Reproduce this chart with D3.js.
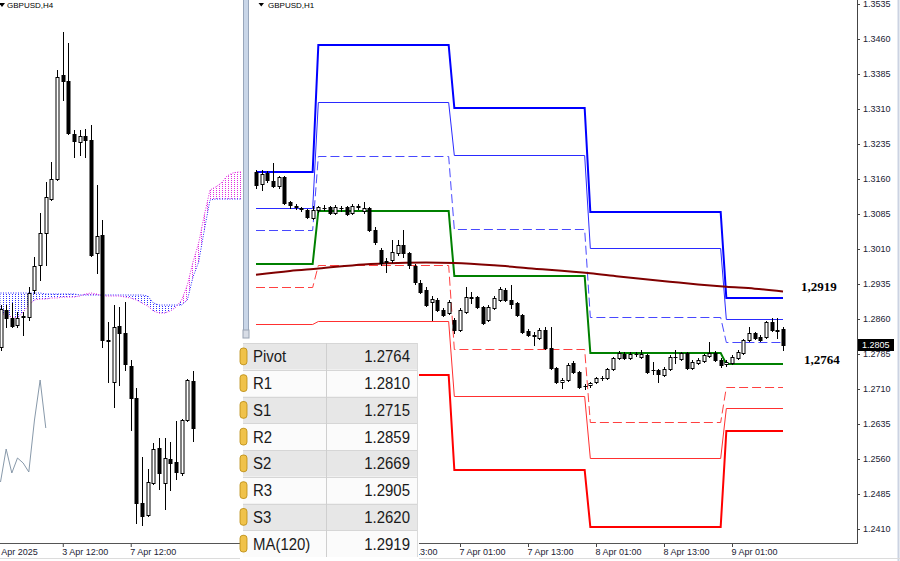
<!DOCTYPE html>
<html><head><meta charset="utf-8">
<script src="https://cdn.jsdelivr.net/npm/d3@7/dist/d3.min.js"></script>
<style>
html,body{margin:0;padding:0;background:#fff;overflow:hidden}
svg{display:block}
</style></head><body>
<svg id="chart" width="900" height="561"></svg>
<script>
// ---------------- DATA ----------------
// H1 candles (bar 0 = 3 Apr 13:00 ... bar 93 = 9 Apr 10:00)
const h1Open=[
1.3175,1.3149,1.3173,1.3156,1.3145,1.3164,1.3111,1.3102,1.3098,1.3094,
1.3076,1.3094,1.3098,1.3100,1.3087,1.3098,1.3100,1.3087,1.3102,1.3091,
1.3098,1.3051,1.3008,1.2982,1.2986,1.3001,1.3018,1.3001,1.2974,1.2937,
1.2922,1.2896,1.2901,1.2879,1.2873,1.2858,1.2836,1.2875,1.2907,1.2907,
1.2886,1.2858,1.2884,1.2901,1.2922,1.2901,1.2894,1.2869,1.2834,1.2826,
1.2819,1.2836,1.2798,1.2755,1.2725,1.2729,1.2766,1.2746,1.2716,1.2719,
1.2725,1.2734,1.2734,1.2753,1.2776,1.2785,1.2776,1.2785,1.2779,1.2783,
1.2751,1.2751,1.2740,1.2753,1.2779,1.2774,1.2787,1.2755,1.2766,1.2770,
1.2781,1.2787,1.2772,1.2764,1.2766,1.2776,1.2787,1.2815,1.2830,1.2821,
1.2821,1.2854,1.2836,1.2839];
const h1High=[
1.3179,1.3179,1.3177,1.3194,1.3166,1.3166,1.3113,1.3106,1.3100,1.3096,
1.3102,1.3102,1.3104,1.3102,1.3104,1.3102,1.3102,1.3106,1.3106,1.3111,
1.3100,1.3057,1.3012,1.2991,1.3029,1.3029,1.3051,1.3004,1.2978,1.2944,
1.2929,1.2909,1.2905,1.2884,1.2901,1.2862,1.2884,1.2929,1.2918,1.2909,
1.2888,1.2890,1.2909,1.2929,1.2926,1.2933,1.2896,1.2871,1.2839,1.2832,
1.2841,1.2843,1.2843,1.2757,1.2734,1.2766,1.2770,1.2749,1.2721,1.2725,
1.2736,1.2738,1.2755,1.2779,1.2791,1.2789,1.2789,1.2789,1.2794,1.2785,
1.2768,1.2753,1.2757,1.2783,1.2794,1.2789,1.2789,1.2772,1.2776,1.2785,
1.2811,1.2791,1.2776,1.2772,1.2783,1.2794,1.2817,1.2843,1.2832,1.2826,
1.2856,1.2862,1.2862,1.2843];
const h1Low=[
1.3141,1.3136,1.3154,1.3143,1.3141,1.3106,1.3098,1.3096,1.3091,1.3076,
1.3074,1.3089,1.3094,1.3085,1.3085,1.3091,1.3083,1.3085,1.3096,1.3087,
1.3049,1.3021,1.2976,1.2961,1.2982,1.2997,1.2993,1.2969,1.2935,1.2916,
1.2888,1.2858,1.2877,1.2866,1.2871,1.2830,1.2834,1.2873,1.2894,1.2884,
1.2849,1.2856,1.2881,1.2899,1.2899,1.2884,1.2866,1.2830,1.2824,1.2804,
1.2817,1.2796,1.2753,1.2723,1.2712,1.2727,1.2744,1.2712,1.2710,1.2714,
1.2723,1.2729,1.2731,1.2751,1.2774,1.2774,1.2774,1.2781,1.2776,1.2744,
1.2742,1.2725,1.2738,1.2751,1.2766,1.2772,1.2753,1.2753,1.2764,1.2768,
1.2779,1.2770,1.2757,1.2759,1.2764,1.2774,1.2785,1.2813,1.2817,1.2813,
1.2819,1.2834,1.2819,1.2794];
const h1Close=[
1.3147,1.3171,1.3158,1.3145,1.3164,1.3109,1.3104,1.3100,1.3096,1.3079,
1.3094,1.3100,1.3097,1.3087,1.3100,1.3097,1.3085,1.3102,1.3100,1.3098,
1.3051,1.3025,1.2980,1.2984,1.3004,1.3018,1.3001,1.2976,1.2939,1.2918,
1.2890,1.2903,1.2879,1.2869,1.2896,1.2836,1.2879,1.2907,1.2906,1.2886,
1.2851,1.2886,1.2905,1.2924,1.2901,1.2892,1.2869,1.2832,1.2826,1.2824,
1.2836,1.2798,1.2755,1.2725,1.2729,1.2761,1.2746,1.2714,1.2717,1.2723,
1.2734,1.2733,1.2753,1.2776,1.2787,1.2776,1.2785,1.2784,1.2785,1.2746,
1.2750,1.2742,1.2753,1.2779,1.2778,1.2787,1.2755,1.2768,1.2772,1.2783,
1.2787,1.2772,1.2761,1.2768,1.2779,1.2789,1.2815,1.2830,1.2819,1.2815,
1.2854,1.2836,1.2835,1.2805];

// Daily pivot levels, one value per day (3,4,7,8,9 Apr)
const dayStart=[0,11,35,59,83];
const dayEnd=[10,34,58,82,93];
const levelR3=[1.3175,1.3447,1.3312,1.3089,1.2905];
const levelR2=[1.3098,1.3325,1.3211,1.3012,1.2859];
const levelR1=[1.3051,1.3209,1.3053,1.2864,1.2810];
const levelP =[1.2978,1.3091,1.2952,1.2787,1.2764];
const levelS1=[1.2929,1.2976,1.2796,1.2639,1.2715];
const levelS2=[1.2849,1.2856,1.2695,1.2562,1.2669];
const levelS3=[1.2760,1.2740,1.2536,1.2414,1.2620];

// MA(120) on H1 (bar index, value)
const maIdx=[0,6,11,19,25,30,35,42,48,59,64,73,78,83,88,93];
const maVal=[1.2955,1.2963,1.2968,1.2977,1.2980,1.2981,1.2980,1.2975,1.2969,1.2958,1.2951,1.2940,1.2934,1.2929,1.2925,1.2919];

// H4 candles (left panel)
const h4Open=[
1.2892,1.2929,1.2921,1.2914,1.2922,1.2922,1.2949,1.2974,1.3006,1.3040,
1.3060,1.3164,1.3158,1.3105,1.3097,1.3103,1.3099,1.2986,1.3004,1.2899,
1.2857,1.2913,1.2906,1.2873,1.2841,1.2736,1.2724,1.2756,1.2791,1.2756,
1.2780,1.2777,1.2766,1.2819,1.2858];
const h4High=[
1.2934,1.2934,1.2936,1.2927,1.2927,1.2952,1.2982,1.3026,1.3057,1.3077,
1.3169,1.3207,1.3196,1.3109,1.3109,1.3110,1.3114,1.3054,1.3019,1.2917,
1.2934,1.2932,1.2937,1.2879,1.2851,1.2782,1.2770,1.2796,1.2801,1.2801,
1.2797,1.2818,1.2820,1.2860,1.2868];
const h4Low=[
1.2889,1.2912,1.2912,1.2912,1.2904,1.2919,1.2946,1.2959,1.2974,1.3039,
1.3059,1.3139,1.3105,1.3082,1.3084,1.3082,1.2983,1.2966,1.2892,1.2857,
1.2832,1.2854,1.2869,1.2809,1.2716,1.2714,1.2723,1.2755,1.2750,1.2730,
1.2749,1.2760,1.2764,1.2818,1.2798];
const h4Close=[
1.2930,1.2921,1.2913,1.2921,1.2923,1.2946,1.2973,1.3006,1.3042,1.3060,
1.3162,1.3158,1.3106,1.3098,1.3103,1.3099,1.2984,1.3003,1.2899,1.2898,
1.2912,1.2906,1.2875,1.2841,1.2736,1.2723,1.2757,1.2790,1.2766,1.2781,
1.2776,1.2767,1.2819,1.2859,1.2811];

// Ichimoku cloud spans on H4 (index 0..43)
const spanA=[
1.2926,1.2924,1.2922,1.2921,1.2927,1.2934,1.2939,1.2940,1.2940,1.2941,
1.2941,1.2942,1.2942,1.2942,1.2943,1.2945,1.2946,1.2945,1.2943,1.2943,
1.2943,1.2943,1.2942,1.2941,1.2939,1.2936,1.2933,1.2928,1.2926,1.2926,
1.2928,1.2932,1.2939,1.2954,1.2977,1.2996,1.3024,1.3049,1.3052,1.3056,
1.3063,1.3066,1.3067,1.3067];
const spanB=[
1.2946,1.2946,1.2946,1.2946,1.2946,1.2946,1.2946,1.2946,1.2945,1.2945,
1.2945,1.2945,1.2945,1.2945,1.2944,1.2944,1.2944,1.2944,1.2944,1.2944,
1.2944,1.2944,1.2944,1.2944,1.2944,1.2944,1.2943,1.2936,1.2934,1.2934,
1.2934,1.2934,1.2934,1.2939,1.2962,1.2977,1.3009,1.3039,1.3040,1.3040,
1.3040,1.3040,1.3040,1.3040];
const chikouShift=26;

// Axis ticks and labels
const priceTicks=[1.3535,1.3460,1.3385,1.3310,1.3235,1.3160,1.3085,1.3010,1.2935,1.2860,1.2785,1.2710,1.2635,1.2560,1.2485,1.2410];
const h1TickIdx=[24,36,48,60,72,84];
const h1TickLabels=["4 Apr 13:00","7 Apr 01:00","7 Apr 13:00","8 Apr 01:00","8 Apr 13:00","9 Apr 01:00"];
const h4TickIdx=[-1,11,23];
const h4TickLabels=["2 Apr 2025","3 Apr 12:00","7 Apr 12:00"];

// Table
const tableLabels=["Pivot","R1","S1","R2","S2","R3","S3","MA(120)"];
const tableValues=[levelP[4],levelR1[4],levelS1[4],levelR2[4],levelS2[4],levelR3[4],levelS3[4],maVal[maVal.length-1]];

// ---------------- DRAW ----------------
const FONT='"Liberation Sans",Arial,sans-serif';
const svg=d3.select('#chart');
svg.append('rect').attr('width',900).attr('height',561).attr('fill','#fff');
const defs=svg.append('defs');
defs.append('clipPath').attr('id','clipL').append('rect').attr('x',0).attr('y',0).attr('width',242).attr('height',542);
defs.append('clipPath').attr('id','clipR').append('rect').attr('x',250).attr('y',0).attr('width',607).attr('height',542);
defs.append('clipPath').attr('id','clipAx').append('rect').attr('x',419).attr('y',530).attr('width',440).attr('height',31);
const patB=defs.append('pattern').attr('id','dotB').attr('patternUnits','userSpaceOnUse').attr('width',3).attr('height',2);
patB.append('rect').attr('width',1).attr('height',1).attr('fill','#3030ff');
const patA=defs.append('pattern').attr('id','dotA').attr('patternUnits','userSpaceOnUse').attr('width',3).attr('height',2);
patA.append('rect').attr('width',1).attr('height',1).attr('fill','#e030e0');

const yR=d3.scaleLinear().domain([1.2410,1.3535]).range([529,4]);
const xR=d3.scaleLinear().domain([0,93]).range([256,783]);
const yL=d3.scaleLinear().domain([1.2714,1.3207]).range([525,32]);
const xL=d3.scaleLinear().domain([0,34]).range([0.5,193]);

function drawCandles(g,x,y,O,Hh,L,C){
  const idx=d3.range(O.length);
  const cg=g.append('g');
  cg.selectAll('line').data(idx).join('line')
    .attr('x1',i=>Math.round(x(i))+0.5).attr('x2',i=>Math.round(x(i))+0.5)
    .attr('y1',i=>Math.round(y(Hh[i]))).attr('y2',i=>Math.round(y(L[i]))+1)
    .attr('stroke','#000').attr('stroke-width',1);
  cg.selectAll('rect').data(idx).join('rect')
    .attr('x',i=>Math.round(x(i))-1)
    .attr('width',3)
    .attr('y',i=>Math.round(y(Math.max(O[i],C[i])))+0.5)
    .attr('height',i=>Math.max(0.01,Math.round(y(Math.min(O[i],C[i])))-Math.round(y(Math.max(O[i],C[i])))))
    .attr('fill',i=>C[i]<O[i]?'#000':'#fff')
    .attr('stroke','#000').attr('stroke-width',1);
}

// ---- LEFT PANEL (H4) ----
const gL=svg.append('g').attr('clip-path','url(#clipL)');
const ichIdx=d3.range(spanA.length);
// cloud fill: blue dots where span B is on top, magenta where span A is on top
gL.append('path').datum(ichIdx)
  .attr('d',d3.area().defined(i=>spanB[i]>=spanA[i]||(i>0&&spanB[i-1]>=spanA[i-1]))
    .x(i=>xL(i)).y0(i=>yL(spanA[i])).y1(i=>yL(spanB[i])))
  .attr('fill','url(#dotB)');
gL.append('path').datum(ichIdx)
  .attr('d',d3.area().defined(i=>spanA[i]>spanB[i]||(i>0&&spanA[i-1]>spanB[i-1]))
    .x(i=>xL(i)).y0(i=>yL(spanB[i])).y1(i=>yL(spanA[i])))
  .attr('fill','url(#dotA)');
gL.append('path').datum(ichIdx)
  .attr('d',d3.line().x(i=>xL(i)).y(i=>yL(spanB[i])))
  .attr('fill','none').attr('stroke','#2020ff').attr('stroke-dasharray','1,1.5');
gL.append('path').datum(ichIdx)
  .attr('d',d3.line().x(i=>xL(i)).y(i=>yL(spanA[i])))
  .attr('fill','none').attr('stroke','#e020e0').attr('stroke-dasharray','1,1.5');
const chIdx=d3.range(chikouShift,h4Close.length);
gL.append('path').datum(chIdx)
  .attr('d',d3.line().x(i=>xL(i-chikouShift)).y(i=>yL(h4Close[i])))
  .attr('fill','none').attr('stroke','#8899aa').attr('stroke-width',1);
drawCandles(gL,xL,yL,h4Open,h4High,h4Low,h4Close);

// left bottom axis
const axL=svg.append('g').attr('transform','translate(0,543)')
  .call(d3.axisBottom(xL).tickValues(h4TickIdx).tickFormat((d,i)=>h4TickLabels[i]).tickSize(4).tickPadding(2));
axL.select('.domain').remove();
axL.attr('font-family',FONT).attr('font-size',9);
axL.selectAll('text').attr('text-anchor','start').attr('fill','#222233').attr('dx',-1);
axL.selectAll('line').attr('stroke','#444');
svg.append('line').attr('x1',0).attr('x2',242).attr('y1',543.5).attr('y2',543.5).attr('stroke','#555');

// title left
svg.append('path').attr('d','M-1,3 L5,3 L2,7 Z').attr('fill','#000');
svg.append('text').attr('x',7).attr('y',8).attr('font-family',FONT).attr('font-size',8).attr('fill','#000').text('GBPUSD,H4');

// ---- RIGHT PANEL (H1) ----
const gR=svg.append('g').attr('clip-path','url(#clipR)');
const levelDefs=[
  {v:levelR3,c:'#0000ff',w:2},
  {v:levelR2,c:'#2a2aff',w:1},
  {v:levelR1,c:'#4848ff',w:1,d:'9,4'},
  {v:levelP ,c:'#008000',w:2},
  {v:levelS1,c:'#ff4040',w:1,d:'9,4'},
  {v:levelS2,c:'#ff3030',w:1},
  {v:levelS3,c:'#ff0000',w:2}
];
levelDefs.forEach(L=>{
  const pts=[];
  L.v.forEach((val,d)=>{pts.push([dayStart[d],val]);pts.push([dayEnd[d],val]);});
  const off=L.w===1?0.5:0;
  gR.append('path').datum(pts)
    .attr('d',d3.line().x(p=>xR(p[0])).y(p=>Math.round(yR(p[1]))+off))
    .attr('fill','none').attr('stroke',L.c).attr('stroke-width',L.w)
    .attr('stroke-dasharray',L.d||null);
});
gR.append('path').datum(d3.range(maIdx.length))
  .attr('d',d3.line().curve(d3.curveMonotoneX).x(i=>xR(maIdx[i])).y(i=>yR(maVal[i])))
  .attr('fill','none').attr('stroke','#800000').attr('stroke-width',2);
drawCandles(gR,xR,yR,h1Open,h1High,h1Low,h1Close);

// right price axis
const axR=svg.append('g').attr('transform','translate(857,0)')
  .call(d3.axisRight(yR).tickValues(priceTicks).tickFormat(d3.format('.4f')).tickSize(3).tickPadding(3));
axR.select('.domain').remove();
axR.attr('font-family',FONT).attr('font-size',9);
axR.selectAll('text').attr('fill','#222233');
axR.selectAll('line').attr('stroke','#444');
svg.append('line').attr('x1',857.5).attr('x2',857.5).attr('y1',0).attr('y2',544).attr('stroke','#444');

// current price box
const last=h1Close[h1Close.length-1];
svg.append('rect').attr('x',858).attr('y',Math.round(yR(last))-6).attr('width',36).attr('height',12).attr('fill','#000');
svg.append('text').attr('x',862).attr('y',yR(last)).attr('dy','0.34em').attr('font-family',FONT).attr('font-size',9).attr('fill','#fff').text(d3.format('.4f')(last));

// bottom time axis right (part left of x=419 lies under the table)
const axB=svg.append('g').attr('clip-path','url(#clipAx)').append('g').attr('transform','translate(0,543)')
  .call(d3.axisBottom(xR).tickValues(h1TickIdx).tickFormat((d,i)=>h1TickLabels[i]).tickSize(4).tickPadding(2));
axB.select('.domain').remove();
axB.attr('font-family',FONT).attr('font-size',9);
axB.selectAll('text').attr('text-anchor','start').attr('fill','#222233').attr('dx',-1);
axB.selectAll('line').attr('stroke','#444');
svg.append('line').attr('x1',250).attr('x2',858).attr('y1',543.5).attr('y2',543.5).attr('stroke','#555');

// level value labels
const comma=v=>d3.format('.4f')(v).replace('.',',');
svg.append('text').attr('x',801).attr('y',yR(maVal[maVal.length-1])).attr('font-family','"Liberation Serif","Times New Roman",serif')
  .attr('font-weight','bold').attr('font-size',13).attr('fill','#000').text(comma(maVal[maVal.length-1]));
svg.append('text').attr('x',804).attr('y',yR(levelP[4])).attr('font-family','"Liberation Serif","Times New Roman",serif')
  .attr('font-weight','bold').attr('font-size',13).attr('fill','#000').text(comma(levelP[4]));

// title right
svg.append('path').attr('d','M258.5,3 L264,3 L261.25,6.5 Z').attr('fill','#000');
svg.append('text').attr('x',268).attr('y',8).attr('font-family',FONT).attr('font-size',8).attr('fill','#000').text('GBPUSD,H1');

// separator between panels
svg.append('rect').attr('x',243.5).attr('y',-1).attr('width',5).attr('height',341).attr('fill','#c9d6e8').attr('stroke','#98a6bb');

// right window edge & bottom edge
svg.append('line').attr('x1',898.5).attr('x2',898.5).attr('y1',0).attr('y2',561).attr('stroke','#ccd3e2').attr('stroke-width',2);
svg.append('line').attr('x1',0).attr('x2',900).attr('y1',558.5).attr('y2',558.5).attr('stroke','#dcdcdc');

// ---- TABLE overlay ----
const tG=svg.append('g');
const rowTop=343, rowH=26.75, tX0=243, tX1=417, colX=326;
tG.append('rect').attr('x',240).attr('y',337).attr('width',179).attr('height',224).attr('fill','#fff');
tG.append('rect').attr('x',243).attr('y',330).attr('width',6).attr('height',8).attr('fill','#d8dde6').attr('stroke','#9aa4b4');
tableLabels.forEach((lab,i)=>{
  const y0=rowTop+i*rowH;
  tG.append('rect').attr('x',tX0).attr('y',y0).attr('width',tX1-tX0).attr('height',rowH)
    .attr('fill',i%2===0?'#e7e7e7':'#fbfbfb');
  tG.append('line').attr('x1',tX0).attr('x2',tX1).attr('y1',Math.round(y0)+0.5).attr('y2',Math.round(y0)+0.5).attr('stroke','#d6d6d6');
  tG.append('rect').attr('x',240).attr('y',y0+5).attr('width',7).attr('height',rowH-10).attr('rx',3)
    .attr('fill','#f0c24a').attr('stroke','#b98a10').attr('stroke-width',0.8);
  tG.append('text').attr('transform',`translate(253,${y0+rowH/2+6}) scale(0.88,1)`)
    .attr('font-family',FONT).attr('font-size',17).attr('fill','#1a1a1a').text(lab);
  tG.append('text').attr('transform',`translate(410,${y0+rowH/2+6}) scale(0.88,1)`)
    .attr('text-anchor','end').attr('font-family',FONT).attr('font-size',17).attr('fill','#1a1a1a')
    .text(d3.format('.4f')(tableValues[i]));
});
tG.append('line').attr('x1',colX+0.5).attr('x2',colX+0.5).attr('y1',rowTop).attr('y2',rowTop+8*rowH).attr('stroke','#cfcfcf');
tG.append('line').attr('x1',tX1+0.5).attr('x2',tX1+0.5).attr('y1',rowTop).attr('y2',rowTop+8*rowH).attr('stroke','#dadada');
</script>
</body></html>
